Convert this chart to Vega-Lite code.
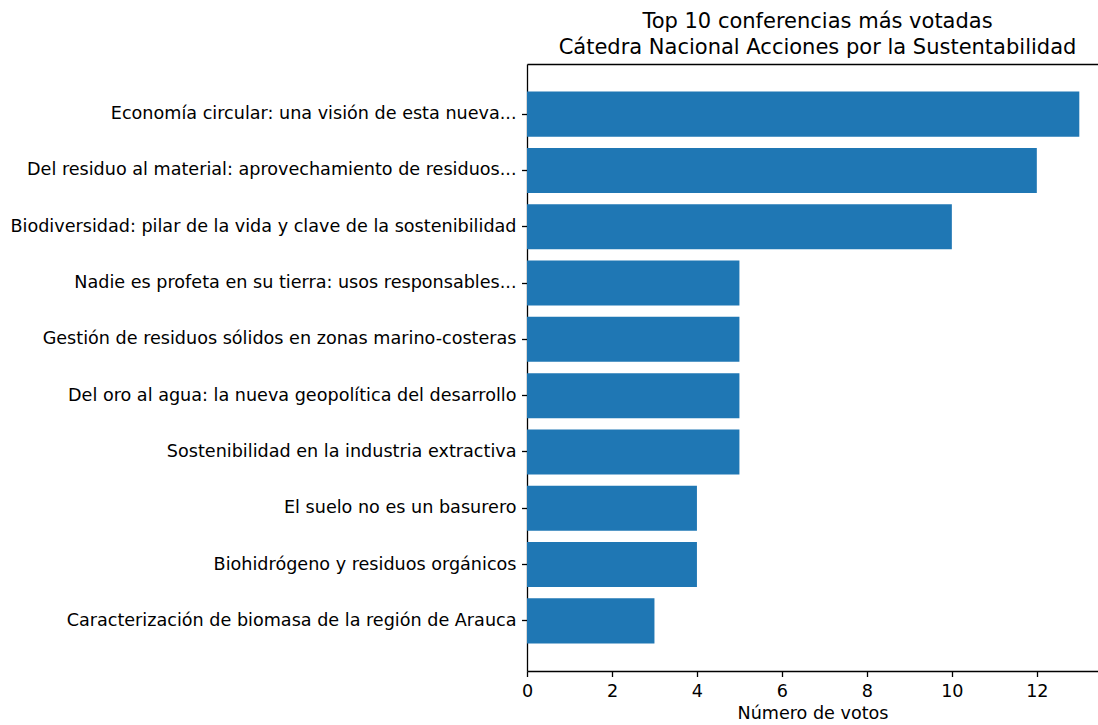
{
  "$schema": "https://vega.github.io/schema/vega-lite/v6.json",
  "autosize": {"type": "none"},
  "padding": {"left": 527, "top": 64, "right": 0, "bottom": 54},
  "width": 571,
  "height": 607,
  "background": "white",
  "config": {
    "view": {"stroke": null},
    "font": "DejaVu Sans",
    "axis": {"labelFont": "DejaVu Sans", "titleFont": "DejaVu Sans", "labelColor": "black", "titleColor": "black", "domainColor": "black", "tickColor": "black", "domainWidth": 1.3, "tickWidth": 1.3, "tickSize": 5.5, "grid": false}
  },
  "title": {
    "text": ["Top 10 conferencias más votadas", "Cátedra Nacional Acciones por la Sustentabilidad"],
    "font": "DejaVu Sans",
    "fontSize": 21,
    "fontWeight": "normal",
    "color": "black",
    "lineHeight": 26,
    "offset": 6,
    "dx": 5
  },
  "data": {
    "values": [
      {"conferencia": "Economía circular: una visión de esta nueva...", "votos": 13},
      {"conferencia": "Del residuo al material: aprovechamiento de residuos...", "votos": 12},
      {"conferencia": "Biodiversidad: pilar de la vida y clave de la sostenibilidad", "votos": 10},
      {"conferencia": "Nadie es profeta en su tierra: usos responsables...", "votos": 5},
      {"conferencia": "Gestión de residuos sólidos en zonas marino-costeras", "votos": 5},
      {"conferencia": "Del oro al agua: la nueva geopolítica del desarrollo", "votos": 5},
      {"conferencia": "Sostenibilidad en la industria extractiva", "votos": 5},
      {"conferencia": "El suelo no es un basurero", "votos": 4},
      {"conferencia": "Biohidrógeno y residuos orgánicos", "votos": 4},
      {"conferencia": "Caracterización de biomasa de la región de Arauca", "votos": 3}
    ]
  },
  "resolve": {"axis": {"x": "independent"}},
  "layer": [
    {
      "mark": {"type": "bar", "color": "#1f77b4"},
      "encoding": {
        "y": {
          "field": "conferencia", "type": "nominal", "sort": null,
          "scale": {"paddingInner": 0.2, "paddingOuter": 0.49},
          "axis": {"title": null, "labelFontSize": 17.6, "labelPadding": 5.5, "labelLimit": 0}
        },
        "x": {
          "field": "votos", "type": "quantitative",
          "scale": {"domain": [0, 13.44], "nice": false, "zero": true},
          "axis": {"title": "Número de votos", "titleFontSize": 17.6, "titleFontWeight": "normal", "titlePadding": 4, "labelFontSize": 17.6, "labelPadding": 6, "values": [0, 2, 4, 6, 8, 10, 12], "labelFlush": false}
        }
      }
    },
    {
      "mark": {"type": "bar", "opacity": 0},
      "encoding": {
        "y": {"field": "conferencia", "type": "nominal", "sort": null},
        "x": {
          "field": "votos", "type": "quantitative",
          "axis": {"orient": "top", "title": null, "labels": false, "ticks": false, "domain": true}
        }
      }
    }
  ]
}
